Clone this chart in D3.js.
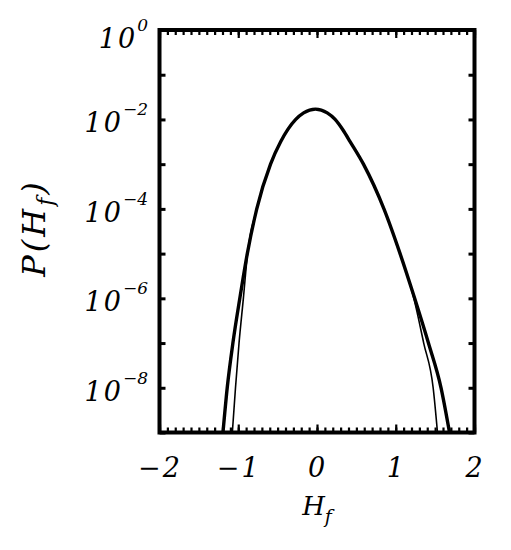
<!DOCTYPE html>
<html>
<head>
<meta charset="utf-8">
<script src="https://cdn.jsdelivr.net/npm/d3@7"></script>
<style>
  body { margin: 0; background: #fff; }
  svg { display: block; }
</style>
</head>
<body>
<div id="chart"></div>
<script>
// thick curve
var hfThick = [-1.194, -1.140, -1.068, -0.980, -0.885, -0.765, -0.59, -0.46, -0.27, -0.17, -0.02, 0.13, 0.23, 0.33, 0.42, 0.59, 0.85, 1.055, 1.24, 1.415, 1.575, 1.683];
var pThick = [1e-9, 1e-8, 1e-7, 1e-6, 1e-5, 1e-4, 1e-3, 3.2e-3, 1e-2, 1.4e-2, 1.7e-2, 1.4e-2, 1e-2, 5.8e-3, 3.2e-3, 1e-3, 1e-4, 1e-5, 1e-6, 1e-7, 1e-8, 1e-9];
// thin curve (same as thick near the top, narrower tails)
var hfThin = [-1.075, -1.035, -0.99, -0.935, -0.882, -0.765, -0.59, -0.46, -0.27, -0.17, -0.02, 0.13, 0.23, 0.33, 0.42, 0.59, 0.85, 1.055, 1.23, 1.355, 1.475, 1.53];
var pThin = [1e-9, 1e-8, 1e-7, 1e-6, 1e-5, 1e-4, 1e-3, 3.2e-3, 1e-2, 1.4e-2, 1.7e-2, 1.4e-2, 1e-2, 5.8e-3, 3.2e-3, 1e-3, 1e-4, 1e-5, 1e-6, 1e-7, 1e-8, 1e-9];

var xTicks = [-2, -1, 0, 1, 2];
var xMinor = d3.range(-20, 21).map(function (i) { return i / 10; });
var yTicks = [1e-9, 1e-8, 1e-7, 1e-6, 1e-5, 1e-4, 1e-3, 1e-2, 1e-1, 1];
var yLabelled = [1e-8, 1e-6, 1e-4, 1e-2, 1];

var width = 511, height = 550;
var x0 = 159.5, x1 = 474.5, y0 = 30, y1 = 432.5;
var font = "'DejaVu Serif', serif";

var x = d3.scaleLinear().domain([-2, 2]).range([x0, x1]);
var y = d3.scaleLog().domain([1e-9, 1]).range([y1, y0]);

var svg = d3.select("#chart").append("svg")
    .attr("width", width)
    .attr("height", height);

svg.append("clipPath").attr("id", "clip")
    .append("rect")
    .attr("x", x0).attr("y", y0)
    .attr("width", x1 - x0).attr("height", y1 - y0);

var line = d3.line()
    .x(function (d) { return x(d[0]); })
    .y(function (d) { return y(d[1]); })
    .curve(d3.curveMonotoneX);

var plot = svg.append("g").attr("clip-path", "url(#clip)");

plot.append("path")
    .datum(d3.zip(hfThin, pThin))
    .attr("d", line)
    .attr("fill", "none")
    .attr("stroke", "#000")
    .attr("stroke-width", 1.6);

plot.append("path")
    .datum(d3.zip(hfThick, pThick))
    .attr("d", line)
    .attr("fill", "none")
    .attr("stroke", "#000")
    .attr("stroke-width", 3.4);

// ticks, all pointing inward
function strip(g) {
    g.select(".domain").remove();
    g.selectAll("line").attr("stroke", "#000");
}

svg.append("g").attr("transform", "translate(0," + y1 + ")")
    .call(d3.axisBottom(x).tickValues(xMinor).tickSize(-5).tickFormat(""))
    .call(strip)
    .selectAll("line").attr("stroke-width", 2.2);
svg.append("g").attr("transform", "translate(0," + y0 + ")")
    .call(d3.axisTop(x).tickValues(xMinor).tickSize(-5).tickFormat(""))
    .call(strip)
    .selectAll("line").attr("stroke-width", 2.2);
svg.append("g").attr("transform", "translate(0," + y0 + ")")
    .call(d3.axisTop(x).tickValues(xTicks).tickSize(-8).tickFormat(""))
    .call(strip)
    .selectAll("line").attr("stroke-width", 2.2);

var xAxis = svg.append("g").attr("transform", "translate(0," + y1 + ")")
    .call(d3.axisBottom(x).tickValues(xTicks).tickSize(-8)
        .tickFormat(function (d) { return d < 0 ? "\u2212" + Math.abs(d) : d; }))
    .call(strip);
xAxis.selectAll("line").attr("stroke-width", 2.2);
xAxis.selectAll("text")
    .attr("y", 44.5)
    .attr("dy", null)
    .style("font-family", font)
    .style("font-style", "italic")
    .style("font-size", "27px")
    .style("letter-spacing", "2px")
    .attr("fill", "#000");

var yAxis = svg.append("g").attr("transform", "translate(" + x0 + ",0)")
    .call(d3.axisLeft(y).tickValues(yTicks).tickSize(-6).tickFormat(""))
    .call(strip);
yAxis.selectAll("line").attr("stroke-width", 3);
svg.append("g").attr("transform", "translate(" + x1 + ",0)")
    .call(d3.axisRight(y).tickValues(yTicks).tickSize(-6).tickFormat(""))
    .call(strip)
    .selectAll("line").attr("stroke-width", 3);

// y labels as 10 with a raised exponent
var ylab = svg.append("g")
    .style("font-family", font)
    .style("font-style", "italic")
    .attr("fill", "#000")
    .selectAll("text")
    .data(yLabelled)
    .enter()
    .append("text")
    .attr("x", 148)
    .attr("y", function (d) { return Math.max(y(d) + 13, 48); })
    .attr("text-anchor", "end");
ylab.append("tspan")
    .style("font-size", "27px")
    .style("letter-spacing", "2px")
    .text("10");
ylab.append("tspan")
    .attr("dy", -17)
    .style("font-size", "17px")
    .text(function (d) {
        var e = Math.round(Math.log10(d));
        return e < 0 ? "\u2212" + Math.abs(e) : e;
    });

// frame
svg.append("rect")
    .attr("x", x0).attr("y", y0)
    .attr("width", x1 - x0).attr("height", y1 - y0)
    .attr("fill", "none")
    .attr("stroke", "#000")
    .attr("stroke-width", 4);

// axis titles
var xt = svg.append("text")
    .attr("x", 317)
    .attr("y", 515)
    .attr("text-anchor", "middle")
    .style("font-family", font)
    .style("font-style", "italic")
    .style("font-size", "26px");
xt.append("tspan").text("H");
xt.append("tspan").attr("dy", 8).style("font-size", "19px").text("f");

var yt = svg.append("text")
    .attr("transform", "translate(45,228) rotate(-90)")
    .attr("text-anchor", "middle")
    .style("font-family", font)
    .style("font-style", "italic")
    .style("font-size", "32px")
    .style("letter-spacing", "3px");
yt.append("tspan").text("P(H");
yt.append("tspan").attr("dy", 8).style("font-size", "22px").text("f");
yt.append("tspan").attr("dy", -8).text(")");
</script>
</body>
</html>
